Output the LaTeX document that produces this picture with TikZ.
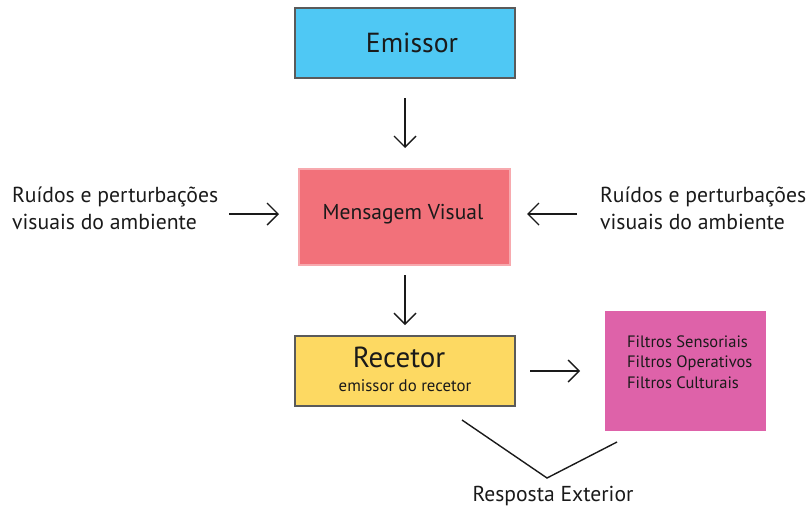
\documentclass[tikz,border=0pt]{standalone}
\usepackage{fontspec}
\setmainfont{PT Sans}
\usetikzlibrary{arrows.meta}
\definecolor{cEmissor}{HTML}{4FC8F4}
\definecolor{cMensagem}{HTML}{F2717A}
\definecolor{cMensagemBorda}{HTML}{F7A9AE}
\definecolor{cRecetor}{HTML}{FDD962}
\definecolor{cFiltros}{HTML}{DE62A9}
\definecolor{cBorda}{HTML}{5A5A5A}
\definecolor{cTexto}{HTML}{1A1A1A}
\tikzset{
  x=1pt, y=-1pt,
  caixa/.style={draw=cBorda, line width=1.2pt, inner sep=0pt, text=cTexto},
  seta/.style={line width=1.4pt, draw=cTexto, -{Straight Barb[length=11pt, width=22pt, line width=1.4pt]}},
  traco/.style={line width=1.4pt, draw=cTexto},
  rotulo/.style={text=cTexto, inner sep=0pt},
}
\begin{document}
\begin{tikzpicture}
\useasboundingbox (0,0) rectangle (808,512);
% caixas
\node[caixa, fill=cEmissor, minimum width=220pt, minimum height=70pt] (emissor) at (405,43) {};
\node[rotulo, font=\fontsize{27.6}{32}\selectfont] (emissorT) at (412,43) {Emissor};
\node[caixa, fill=cMensagem, draw=cMensagemBorda, minimum width=211pt, minimum height=96pt] (mensagem) at (404.5,217) {};
\node[rotulo, font=\fontsize{21.5}{25}\selectfont] (mensagemT) at (403,214) {Mensagem Visual};
\node[caixa, fill=cRecetor, minimum width=220pt, minimum height=70pt] (recetor) at (405,371) {};
\node[rotulo, font=\fontsize{29}{33}\selectfont] (recetorT) at (399,357) {Recetor};
\node[rotulo, font=\fontsize{16.8}{20}\selectfont] (recetorS) at (405,386) {emissor do recetor};
\node[caixa, fill=cFiltros, draw=none, minimum width=161pt, minimum height=120pt] (filtros) at (685.5,371) {};
\node[rotulo, anchor=west, align=left, font=\fontsize{16.5}{20.5}\selectfont] (filtrosT) at (627,362) {Filtros Sensoriais\\Filtros Operativos\\Filtros Culturais};
% textos laterais
\node[rotulo, anchor=west, align=left, font=\fontsize{21.7}{27}\selectfont] (ruidoE) at (12,208.5) {Ruídos e perturbações\\visuais do ambiente};
\node[rotulo, anchor=west, align=left, font=\fontsize{21.7}{27}\selectfont] (ruidoD) at (600,208.5) {Ruídos e perturbações\\visuais do ambiente};
\node[rotulo, font=\fontsize{21.6}{25}\selectfont] (resposta) at (553,496) {Resposta Exterior};
% pontos das setas
\coordinate (a1) at (405,98);  \coordinate (b1) at (405,148);
\coordinate (a2) at (405,275); \coordinate (b2) at (405,325);
\coordinate (a3) at (229,214); \coordinate (b3) at (279,214);
\coordinate (a4) at (577,214); \coordinate (b4) at (527,214);
\coordinate (a5) at (530,371); \coordinate (b5) at (580,371);
\draw[seta] (a1) -- (b1);
\draw[seta] (a2) -- (b2);
\draw[seta] (a3) -- (b3);
\draw[seta] (a4) -- (b4);
\draw[seta] (a5) -- (b5);
% ligação à resposta exterior
\coordinate (r1) at (462,420);
\coordinate (rv) at (547,478);
\coordinate (r2) at (617,442);
\draw[traco] (r1) -- (rv) -- (r2);
\end{tikzpicture}
\end{document}
